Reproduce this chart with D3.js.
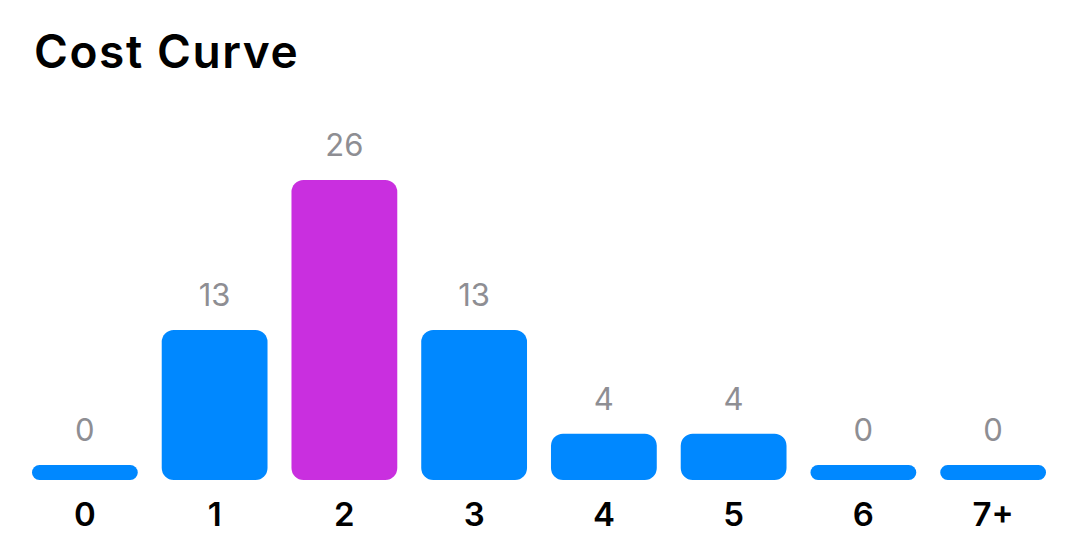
<!DOCTYPE html>
<html>
<head>
<meta charset="utf-8">
<script src="https://cdn.jsdelivr.net/npm/d3@7"></script>
<style>
  html, body { margin: 0; padding: 0; background: #fff; }
  svg { display: block; }
</style>
</head>
<body>
<div id="container"></div>
<script>
var categories = ['0', '1', '2', '3', '4', '5', '6', '7+'],
    counts = [0, 13, 26, 13, 4, 4, 0, 0],
    highlighted = ['2'];

var WIDTH = 1070,
    HEIGHT = 556,
    BASELINE = 480,
    MIN_BAR = 15;

var svg = d3.select('#container').append('svg')
    .attr('width', WIDTH)
    .attr('height', HEIGHT)
    .style('font-family', 'Inter, "Noto Sans", sans-serif');

svg.append('text')
    .attr('x', 34)
    .attr('y', 68)
    .attr('font-size', 46)
    .attr('font-weight', 600)
    .attr('letter-spacing', 1.6)
    .attr('fill', '#000')
    .text('Cost Curve');

var x = d3.scaleBand()
    .domain(categories)
    .range([20, 1058])
    .paddingInner(24 / 130)
    .paddingOuter(12 / 130);

var y = d3.scaleLinear()
    .domain([0, 26])
    .range([BASELINE, 180]);

function barTop(v) { return Math.min(y(v), BASELINE - MIN_BAR); }

var data = categories.map(function(c, i) { return {cat: c, value: counts[i]}; });

svg.append('g').selectAll('path')
  .data(data)
  .enter()
  .append('path')
    .attr('d', function(d) {
      var x0 = x(d.cat), w = x.bandwidth(), t = barTop(d.value), h = BASELINE - t;
      var r = Math.min(12, h / 2);
      var p = d3.path();
      p.moveTo(x0 + r, t);
      p.lineTo(x0 + w - r, t);
      p.arcTo(x0 + w, t, x0 + w, t + r, r);
      p.lineTo(x0 + w, BASELINE - r);
      p.arcTo(x0 + w, BASELINE, x0 + w - r, BASELINE, r);
      p.lineTo(x0 + r, BASELINE);
      p.arcTo(x0, BASELINE, x0, BASELINE - r, r);
      p.lineTo(x0, t + r);
      p.arcTo(x0, t, x0 + r, t, r);
      p.closePath();
      return p.toString();
    })
    .attr('fill', function(d) { return highlighted.indexOf(d.cat) >= 0 ? '#c92fdf' : '#0088ff'; });

svg.append('g').selectAll('text')
  .data(data)
  .enter()
  .append('text')
    .attr('x', function(d) { return x(d.cat) + x.bandwidth() / 2; })
    .attr('y', function(d) { return barTop(d.value) - 24; })
    .attr('text-anchor', 'middle')
    .attr('font-size', 31)
    .attr('fill', '#8e8e93')
    .text(function(d) { return d.value; });

svg.append('g').selectAll('text')
  .data(categories)
  .enter()
  .append('text')
    .attr('x', function(d) { return x(d) + x.bandwidth() / 2; })
    .attr('y', 526)
    .attr('text-anchor', 'middle')
    .attr('font-size', 33)
    .attr('font-weight', 600)
    .attr('fill', '#000')
    .text(function(d) { return d; });
</script>
</body>
</html>
